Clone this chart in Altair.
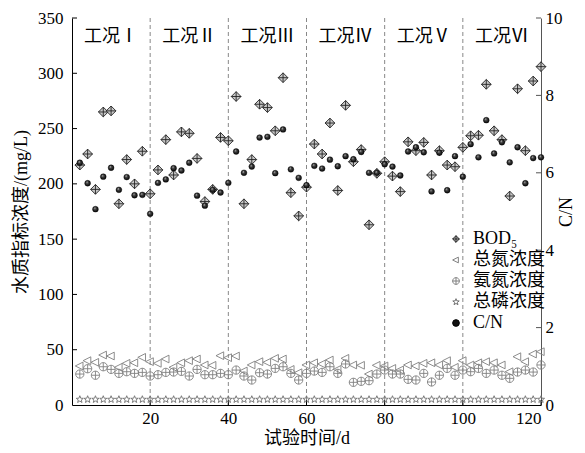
import math
import altair as alt
import pandas as pd

# ---------------- data ----------------
days = list(range(2, 121, 2))

bod = [217, 227, 195, 265, 266, 182, 222, 200, 229.5, 191,
       212.6, 240, 208, 247, 245.7, 223, 184, 195, 242, 239,
       279, 182, 222, 272, 269, 248, 296, 192, 171, 197,
       236, 227, 255, 194, 271, 220, 231, 163, 209.5, 220,
       207, 193, 238, 230, 237.5, 208, 230, 217, 215.5, 233,
       243.5, 244, 290, 248, 240, 189, 286, 230, 293, 306]

tn = [35.3, 40.1, 38.6, 45.2, 44.3, 34.1, 37.7, 38.2, 43.1, 39.2,
      37.7, 41.6, 34.1, 38.2, 40.1, 41.6, 36.2, 35.9, 44.6, 42.8,
      44.3, 30.8, 36.2, 39.2, 38.6, 42.2, 41.6, 32.2, 29.2, 36.2,
      38.2, 37.1, 40.7, 32.2, 42.2, 36.2, 35.9, 28.0, 35.9, 35.3,
      33.1, 31.7, 36.2, 35.3, 37.7, 38.2, 36.2, 40.1, 34.1, 40.1,
      36.2, 38.2, 39.2, 38.2, 36.2, 30.1, 43.7, 39.2, 46.1, 48.2]

nh3 = [28.0, 32.8, 26.9, 34.6, 32.2, 28.6, 30.1, 28.6, 29.5, 26.2,
       27.4, 29.5, 29.8, 30.4, 26.2, 32.2, 27.4, 27.4, 28.6, 27.4,
       31.6, 26.2, 22.6, 29.2, 28.0, 33.1, 34.6, 28.6, 22.6, 28.6,
       30.7, 29.5, 34.6, 28.6, 37.1, 20.5, 21.4, 22.0, 28.0, 31.6,
       28.0, 28.0, 23.2, 22.6, 28.6, 20.8, 26.9, 33.1, 26.9, 31.6,
       30.1, 33.1, 28.6, 31.6, 26.9, 24.1, 29.8, 31.6, 29.8, 36.2]

tp = [5.0] * 60

cn = [6.26, 5.73, 5.06, 5.90, 6.13, 5.56, 5.89, 5.42, 5.43, 4.94,
      5.74, 5.83, 6.12, 6.06, 6.26, 5.41, 5.15, 5.56, 5.49, 5.74,
      6.55, 6.00, 6.16, 6.91, 6.93, 5.99, 7.12, 6.09, 5.87, 5.68,
      6.18, 6.11, 6.34, 6.17, 6.43, 6.35, 6.54, 6.00, 6.00, 6.22,
      6.16, 5.93, 6.55, 6.66, 6.53, 5.52, 6.52, 5.55, 6.43, 5.90,
      6.74, 6.40, 7.36, 6.50, 6.79, 6.27, 6.66, 5.73, 6.38, 6.40]

series_names = ["BOD₅", "总氮浓度", "氨氮浓度", "总磷浓度", "C/N"]

stage_x = [10, 30, 50, 70, 90, 110]
stage_labels = ["工况Ⅰ", "工况Ⅱ", "工况Ⅲ", "工况Ⅳ", "工况Ⅴ", "工况Ⅵ"]
stage_bounds = [20, 40, 60, 80, 100]

x_ticks = [20, 40, 60, 80, 100, 120]
yl_ticks = [0, 50, 100, 150, 200, 250, 300, 350]
yr_ticks = [0, 2, 4, 6, 8, 10]

# ---------------- tables ----------------
rows = []
for name, vals in zip(series_names[:4], [bod, tn, nh3, tp]):
    for d, v in zip(days, vals):
        rows.append({"day": d, "series": name, "value": v})
df_left = pd.DataFrame(rows)
df_cn = pd.DataFrame({"day": days, "cn": cn, "series": "C/N"})
df_stage = pd.DataFrame({"x": stage_x, "label": stage_labels})
df_bounds = pd.DataFrame({"x": stage_bounds})
df_xt = pd.DataFrame({"x": x_ticks})
df_ylt = pd.DataFrame({"v": yl_ticks[1:]})
df_yrt = pd.DataFrame({"v": yr_ticks[1:]})

# ---------------- styles ----------------
FONT = "'Liberation Serif', 'Noto Sans CJK SC'"
W, H = 469, 387

diamond_cross = "M0,-1L1,0L0,1L-1,0Z M0,-1L0,1 M-1,0L1,0"
circle_plus = "M-1,0A1,1,0,1,0,1,0A1,1,0,1,0,-1,0Z M-1,0L1,0 M0,-1L0,1"
tri_left = "M-1,0L0.7,-0.85L0.7,0.85Z"
pts = []
for i in range(10):
    r = 1.0 if i % 2 == 0 else 0.42
    a = -math.pi / 2 + i * math.pi / 5
    pts.append(f"{r*math.cos(a):.3f},{r*math.sin(a):.3f}")
star = "M" + "L".join(pts) + "Z"

shape_scale = alt.Scale(domain=series_names,
                        range=[diamond_cross, tri_left, circle_plus, star, "circle"])
stroke_scale = alt.Scale(domain=series_names,
                         range=["#222222", "#808080", "#808080", "#707070", "#000000"])
fill_scale = alt.Scale(domain=series_names,
                       range=["#c8c8c8", "transparent", "transparent", "transparent", "#111111"])
size_scale = alt.Scale(domain=series_names[:4], range=[95, 56, 56, 52])

legend = alt.Legend(title=None, orient="none", legendX=375, legendY=212,
                    labelFont=FONT, labelFontSize=18, labelColor="black",
                    symbolSize=45, symbolStrokeWidth=1, rowPadding=3,
                    labelOffset=8)

x_enc = lambda f: alt.X(f, type="quantitative",
                        scale=alt.Scale(domain=[0, 120], nice=False),
                        axis=alt.Axis(values=x_ticks, ticks=False, grid=False,
                                      domainColor="black", labelPadding=5,
                                      titlePadding=3, labelFont=FONT, titleFont=FONT),
                        title="试验时间/d")
yl_scale = alt.Scale(domain=[0, 350], nice=False)
yl_axis = alt.Axis(values=yl_ticks, ticks=False, grid=False, domainColor="black",
                   labelPadding=9, titlePadding=7, labelFont=FONT, titleFont=FONT)
yl_enc = lambda f: alt.Y(f, type="quantitative", scale=yl_scale, axis=yl_axis,
                         title="水质指标浓度/(mg/L)")
yr_scale = alt.Scale(domain=[0, 10], nice=False)
yr_axis = alt.Axis(orient="right", values=yr_ticks, ticks=False, grid=False,
                   domainColor="#555555", labelPadding=4, titlePadding=13,
                   titleAngle=270, labelFont=FONT, titleFont=FONT)
yr_enc = lambda f: alt.Y(f, type="quantitative", scale=yr_scale, axis=yr_axis,
                         title="C/N")

# ---------------- layers ----------------
bounds = alt.Chart(df_bounds).mark_rule(color="#888888", strokeDash=[4, 3],
                                        strokeWidth=1).encode(x=x_enc("x"))

stage_text = alt.Chart(df_stage).mark_text(font=FONT, fontSize=18, color="black",
                                           baseline="middle").encode(
    x=x_enc("x"), y=alt.value(19), text="label:N")

xticks = alt.Chart(df_xt).mark_rule(color="black").encode(
    x=x_enc("x"), y=alt.value(H - 5), y2=alt.value(H))

ylticks = alt.Chart(df_ylt).mark_rule(color="black").encode(
    y=yl_enc("v"), x=alt.value(0), x2=alt.value(5))

left_pts = alt.Chart(df_left).mark_point(opacity=1, strokeWidth=0.9).encode(
    x=x_enc("day"),
    y=yl_enc("value"),
    shape=alt.Shape("series:N", scale=shape_scale, legend=legend),
    stroke=alt.Stroke("series:N", scale=stroke_scale, legend=legend),
    fill=alt.Fill("series:N", scale=fill_scale, legend=legend),
    size=alt.Size("series:N", scale=size_scale, legend=None),
)

ball = {"gradient": "radial",
        "x1": 0.35, "y1": 0.3, "r1": 0.0,
        "x2": 0.5, "y2": 0.5, "r2": 0.55,
        "stops": [{"offset": 0.0, "color": "#e8e8e8"},
                  {"offset": 0.35, "color": "#444444"},
                  {"offset": 1.0, "color": "#000000"}]}

cn_pts = alt.Chart(df_cn).mark_point(filled=True, fill=ball, stroke="#000000",
                                     strokeWidth=0.4, size=34, opacity=1).encode(
    x=x_enc("day"),
    y=yr_enc("cn"),
    shape=alt.Shape("series:N", scale=shape_scale, legend=legend),
)

yrticks = alt.Chart(df_yrt).mark_rule(color="#555555").encode(
    y=yr_enc("v"), x=alt.value(W - 5), x2=alt.value(W))

left = alt.layer(bounds, xticks, ylticks, stage_text, left_pts)
right = alt.layer(yrticks, cn_pts)

chart = alt.layer(left, right).resolve_scale(y="independent").properties(
    width=W, height=H,
    autosize=alt.AutoSizeParams(type="none"),
    padding={"left": 64, "top": 10, "right": 36, "bottom": 50},
    background="white",
).configure_view(strokeWidth=0).configure_axis(
    labelFont=FONT, labelFontSize=17, labelColor="black",
    titleFont=FONT, titleFontSize=18, titleFontWeight="normal", titleColor="black",
    domainWidth=1,
).configure_legend(labelFont=FONT)

chart.save("out.html", embed_options={"renderer": "svg", "actions": False})
